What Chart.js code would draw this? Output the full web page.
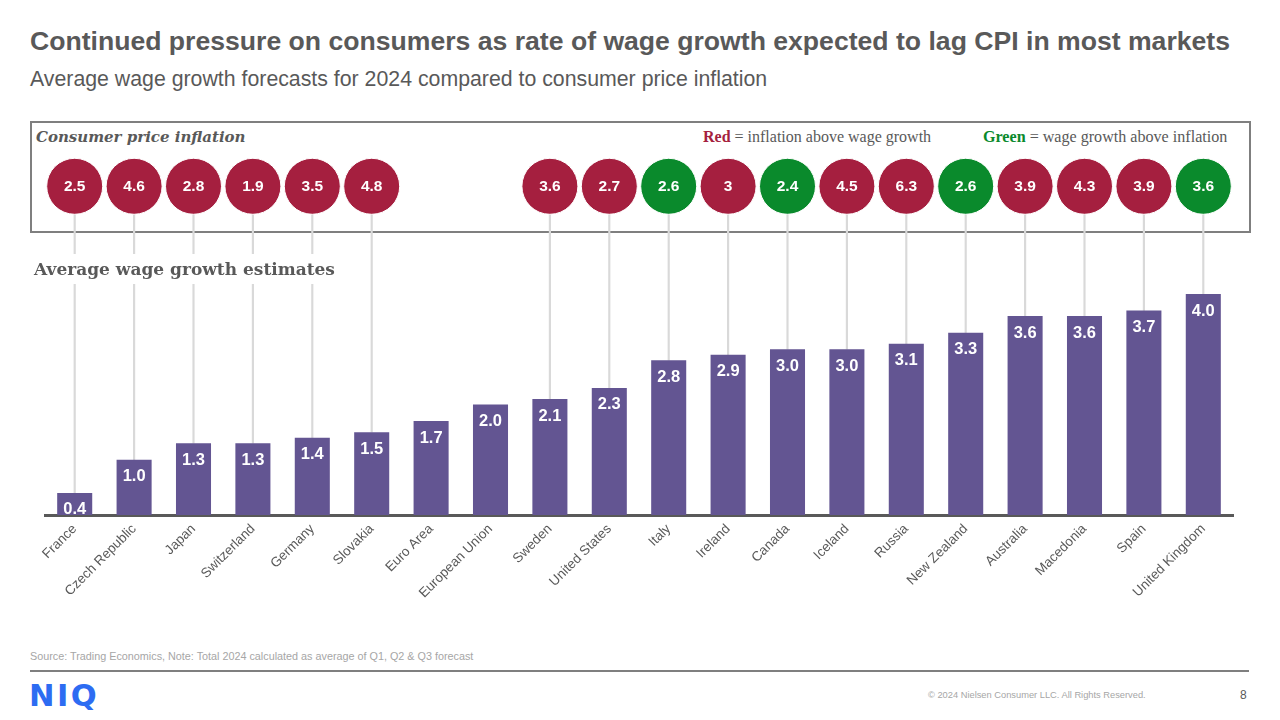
<!DOCTYPE html>
<html>
<head>
<meta charset="utf-8">
<script src="https://cdn.jsdelivr.net/npm/chart.js@4/dist/chart.umd.min.js"></script>
<style>
  html, body { margin:0; padding:0; background:#fff; }
  body { width:1280px; height:720px; position:relative; overflow:hidden; font-family:"Liberation Sans", Arial, sans-serif; }
  .abs { position:absolute; white-space:nowrap; }
  #title { left:30px; top:26px; font-size:26.6px; font-weight:bold; color:#595959; }
  #subtitle { left:30px; top:67px; font-size:21.3px; color:#595959; }
  #box { left:30px; top:121px; width:1217px; height:108px; border:2px solid #7f7f7f; }
  #cpiLabel { left:36px; top:128px; font-family:"DejaVu Serif", serif; font-style:italic; font-weight:bold; font-size:15px; color:#595959; }
  #legRed { left:703px; top:128px; font-family:"Liberation Serif", serif; font-size:16px; color:#595959; }
  #legGreen { left:983px; top:128px; font-family:"Liberation Serif", serif; font-size:16.1px; color:#595959; }
  #source { left:30px; top:650px; font-size:10.8px; color:#a6a6a6; }
  #rule { left:30px; top:670px; width:1219px; height:2px; background:#7f7f7f; }
  #logo { left:29px; top:678px; font-family:"DejaVu Sans", sans-serif; font-size:30.5px; font-weight:bold; color:#2d6cf2; letter-spacing:2.5px; }
  #copy { left:928px; top:690px; font-size:9.3px; color:#a6a6a6; }
  #page { left:1240px; top:688px; font-size:12px; color:#595959; }
  #wrap { position:absolute; left:0; top:0; width:1280px; height:720px; }
</style>
</head>
<body>
<div id="title" class="abs">Continued pressure on consumers as rate of wage growth expected to lag CPI in most markets</div>
<div id="subtitle" class="abs">Average wage growth forecasts for 2024 compared to consumer price inflation</div>
<div id="box" class="abs"></div>
<div id="cpiLabel" class="abs">Consumer price inflation</div>
<div id="legRed" class="abs"><b style="color:#a51f3f">Red</b> = inflation above wage growth</div>
<div id="legGreen" class="abs"><b style="color:#0a8a2c">Green</b> = wage growth above inflation</div>
<div id="source" class="abs">Source: Trading Economics, Note: Total 2024 calculated as average of Q1, Q2 &amp; Q3 forecast</div>
<div id="rule" class="abs"></div>
<div id="logo" class="abs">NIQ</div>
<div id="copy" class="abs">© 2024 Nielsen Consumer LLC. All Rights Reserved.</div>
<div id="page" class="abs">8</div>
<div id="wrap"><canvas id="c" width="1280" height="720"></canvas></div>
<script>
const categories = ["France","Czech Republic","Japan","Switzerland","Germany","Slovakia","Euro Area","European Union","Sweden","United States","Italy","Ireland","Canada","Iceland","Russia","New Zealand","Australia","Macedonia","Spain","United Kingdom"];
const wageGrowth = [0.4,1.0,1.3,1.3,1.4,1.5,1.7,2.0,2.1,2.3,2.8,2.9,3.0,3.0,3.1,3.3,3.6,3.6,3.7,4.0];
const cpiInflation = [2.5,4.6,2.8,1.9,3.5,4.8,null,null,3.6,2.7,2.6,3,2.4,4.5,6.3,2.6,3.9,4.3,3.9,3.6];

const RED = '#a51f3f', GREEN = '#0a8a2c', PURPLE = '#635592';
const BUBBLE_ROW = 5.95;   // vertical level of the CPI bubble row on the y scale
const Y_MAX = 7.15;

const bubbleLevel = cpiInflation.map(v => v === null ? null : BUBBLE_ROW);
const connectors = cpiInflation.map((v, i) => v === null ? null : [wageGrowth[i], BUBBLE_ROW]);
const bubbleColors = cpiInflation.map((v, i) => v === null ? 'rgba(0,0,0,0)' : (v > wageGrowth[i] ? RED : GREEN));

const labelPlugin = {
  id: 'labels',
  afterDatasetsDraw(chart) {
    const ctx = chart.ctx;
    ctx.save();
    const barMeta = chart.getDatasetMeta(0);
    ctx.fillStyle = '#fff';
    ctx.font = 'bold 16.5px "Liberation Sans", Arial, sans-serif';
    ctx.textAlign = 'center';
    ctx.textBaseline = 'middle';
    barMeta.data.forEach((el, i) => {
      ctx.fillText(wageGrowth[i].toFixed(1), el.x, el.y + 17);
    });
    const bubMeta = chart.getDatasetMeta(2);
    ctx.font = 'bold 15.5px "Liberation Sans", Arial, sans-serif';
    bubMeta.data.forEach((el, i) => {
      if (cpiInflation[i] === null) return;
      ctx.fillText(String(cpiInflation[i]), el.x, el.y);
    });
    ctx.fillStyle = '#fff';
    ctx.fillRect(30, 254, 312, 30);
    ctx.fillStyle = '#595959';
    ctx.font = 'bold 17px "DejaVu Serif", serif';
    ctx.textAlign = 'left';
    ctx.textBaseline = 'alphabetic';
    ctx.fillText('Average wage growth estimates', 34, 275);
    ctx.restore();
  }
};

new Chart(document.getElementById('c'), {
  type: 'bar',
  data: {
    labels: categories,
    datasets: [
      { type:'bar', data: wageGrowth, backgroundColor: PURPLE, barPercentage: 0.59, categoryPercentage: 1, order: 1 },
      { type:'bar', data: connectors, backgroundColor: '#d9d9d9', barThickness: 1.5, grouped: false, order: 3 },
      { type:'line', data: bubbleLevel, showLine: false, pointRadius: 28, pointHoverRadius: 28,
        pointBackgroundColor: bubbleColors, pointBorderColor: '#fff', pointBorderWidth: 1, order: 0 }
    ]
  },
  options: {
    responsive: false,
    animation: false,
    events: [],
    layout: { padding: { left: 45, right: 47, top: 120, bottom: 95 } },
    plugins: { legend: { display: false }, tooltip: { enabled: false } },
    scales: {
      x: {
        offset: true,
        grid: { display: false, drawTicks: false },
        border: { display: true, color: '#595959', width: 3 },
        ticks: { color: '#595959', font: { size: 13.5, family: '"Liberation Sans", Arial, sans-serif' },
                 minRotation: 45, maxRotation: 45, padding: 6, autoSkip: false },
        afterFit: (s) => { s.height = 110; }
      },
      y: { display: false, min: 0, max: Y_MAX }
    }
  },
  plugins: [labelPlugin]
});
</script>
</body>
</html>
